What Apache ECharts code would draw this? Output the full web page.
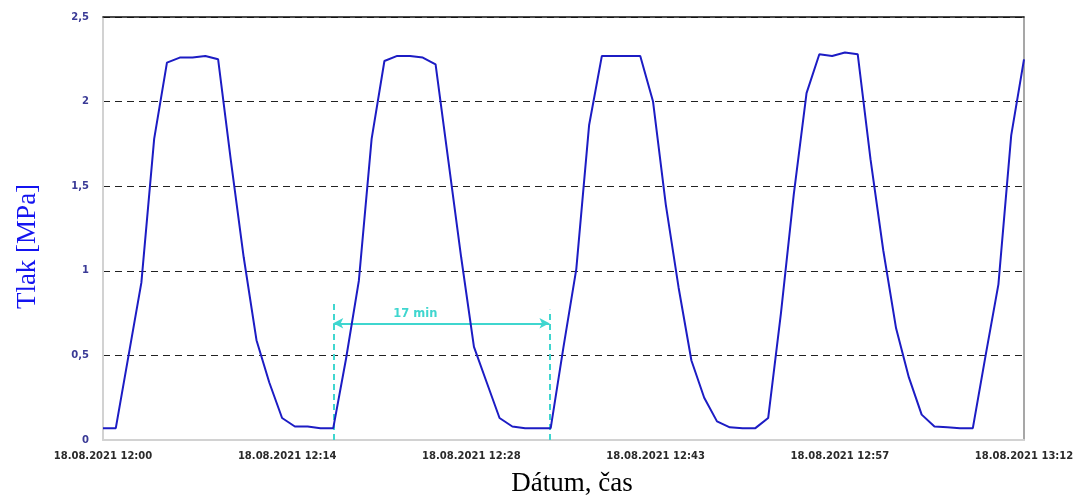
<!DOCTYPE html>
<html>
<head>
<meta charset="utf-8">
<script src="https://cdn.jsdelivr.net/npm/echarts@6/dist/echarts.min.js"></script>
<style>
html,body{margin:0;padding:0;background:#fff;overflow:hidden;}
#c{width:1078px;height:502px;}
</style>
</head>
<body>
<div id="c"></div>
<script>
// Pressure [MPa] sampled every minute from 18.08.2021 12:00 (minute 0) to 13:12 (minute 72)
const pressure = [
  0.07, 0.07, 0.50, 0.93, 1.78, 2.23, 2.26, 2.26, 2.27, 2.25,
  1.65, 1.08, 0.59, 0.34, 0.13, 0.08, 0.08, 0.07, 0.07, 0.48,
  0.94, 1.78, 2.24, 2.27, 2.27, 2.26, 2.22, 1.65, 1.08, 0.55,
  0.34, 0.13, 0.08, 0.07, 0.07, 0.07, 0.55, 1.01, 1.86, 2.27,
  2.27, 2.27, 2.27, 2.00, 1.39, 0.90, 0.47, 0.25, 0.11, 0.075,
  0.07, 0.07, 0.13, 0.75, 1.45, 2.05, 2.28, 2.27, 2.29, 2.28,
  1.66, 1.12, 0.66, 0.37, 0.15, 0.08, 0.075, 0.07, 0.07, 0.50,
  0.92, 1.80, 2.25
];
const xTickLabels = ['18.08.2021 12:00','18.08.2021 12:14','18.08.2021 12:28','18.08.2021 12:43','18.08.2021 12:57','18.08.2021 13:12'];
const yTickLabels = ['0','0,5','1','1,5','2','2,5'];
// Annotation: 17 min period marker (minute, MPa)
const periodStart = 18, periodEnd = 34.9;
const markerTops = [0.82, 0.77];
const arrowLevel = 0.69;
const periodText = '17 min';

const cyan = '#3fd6cf';
const chart = echarts.init(document.getElementById('c'), null, {renderer:'canvas', width:1078, height:502});
const xStep = 72/5;
chart.setOption({
  animation:false,
  backgroundColor:'#fff',
  grid:{left:103,width:921,top:17,height:429,containLabel:false},
  xAxis:[{
    type:'value',min:0,max:72,interval:xStep,position:'bottom',
    axisLine:{show:true,onZero:false,lineStyle:{color:'#d2d2d2',width:2}},
    axisTick:{show:false},
    splitLine:{show:false},
    axisLabel:{
      margin:11,color:'#2a2a2a',fontFamily:'DejaVu Sans',fontWeight:'bold',fontSize:10,
      formatter:v=>xTickLabels[Math.round(v/xStep)]
    },
    name:'Dátum, čas',nameLocation:'middle',nameGap:30,
    nameTextStyle:{fontFamily:'Liberation Serif',fontSize:27,color:'#000',padding:[0,0,0,17]}
  },{
    type:'value',min:0,max:72,position:'top',
    axisLine:{show:true,onZero:false,lineStyle:{color:'#111',width:1.5}},
    axisTick:{show:false},axisLabel:{show:false},splitLine:{show:false}
  }],
  yAxis:[{
    type:'value',min:0,max:2.5,interval:0.5,position:'left',
    axisLine:{show:true,onZero:false,lineStyle:{color:'#d2d2d2',width:2}},
    axisTick:{show:false},
    splitLine:{show:true,lineStyle:{color:'#222',type:[7,5],width:1}},
    axisLabel:{
      margin:14,color:'#3a3a96',fontFamily:'DejaVu Sans',fontWeight:'bold',fontSize:10,
      formatter:v=>yTickLabels[Math.round(v/0.5)]
    },
    name:'Tlak [MPa]',nameLocation:'middle',nameGap:62,
    nameTextStyle:{fontFamily:'Liberation Serif',fontSize:27,color:'#1414f0',padding:[0,36,0,0]}
  },{
    type:'value',min:0,max:2.5,position:'right',
    axisLine:{show:true,onZero:false,lineStyle:{color:'#8a8a8a',width:1.5}},
    axisTick:{show:false},axisLabel:{show:false},splitLine:{show:false}
  }],
  series:[{
    type:'line',
    xAxisIndex:0,yAxisIndex:0,
    data:pressure.map((v,i)=>[i,v]),
    showSymbol:false,
    lineStyle:{color:'#1c1cc4',width:2},
    z:5,
    markLine:{
      silent:true,
      symbol:'none',
      animation:false,
      data:[
        [{coord:[periodStart,0],symbol:'none'},{coord:[periodStart,markerTops[0]],symbol:'none',
          lineStyle:{color:cyan,type:[6,4],width:2},label:{show:false}}],
        [{coord:[periodEnd,0],symbol:'none'},{coord:[periodEnd,markerTops[1]],symbol:'none',
          lineStyle:{color:cyan,type:[6,4],width:2},label:{show:false}}],
        [{coord:[periodStart,arrowLevel],symbol:'arrow',symbolSize:[8,10]},
         {coord:[periodEnd,arrowLevel],symbol:'arrow',symbolSize:[8,10],
          lineStyle:{color:cyan,type:'solid',width:2},
          label:{show:true,position:'middle',formatter:periodText,color:cyan,fontFamily:'DejaVu Sans',fontWeight:'bold',fontSize:11.5,distance:3,padding:[0,52,0,0]}}]
      ]
    }
  }]
});
</script>
</body>
</html>
